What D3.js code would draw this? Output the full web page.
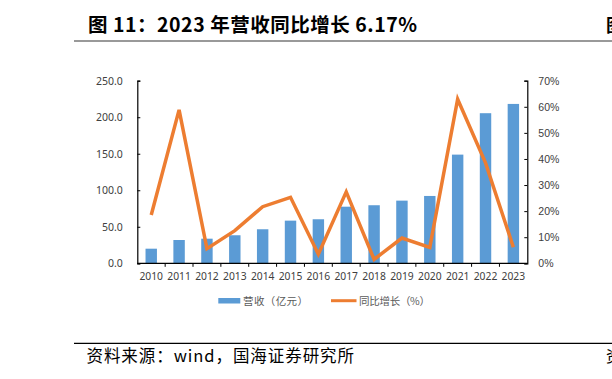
<!DOCTYPE html>
<html><head><meta charset="utf-8">
<script src="https://cdn.jsdelivr.net/npm/d3@7"></script>
<style>
html,body{margin:0;padding:0;background:#fff;}
svg{display:block;}
</style></head>
<body>
<svg id="c" width="612" height="379"></svg>
<script>
const years = ["2010","2011","2012","2013","2014","2015","2016","2017","2018","2019","2020","2021","2022","2023"];
const revenue = [20.0, 31.9, 33.7, 38.4, 46.6, 58.4, 60.3, 77.5, 79.5, 85.8, 92.2, 148.8, 205.5, 218.2];
const growth = [18.5, 58.8, 5.6, 12.5, 21.7, 25.3, 3.5, 27.4, 1.5, 9.7, 6.1, 62.9, 38.5, 6.17];
const leftTicks = [0, 50, 100, 150, 200, 250];
const rightTicks = [0, 10, 20, 30, 40, 50, 60, 70];
const titleText = "图 11：2023 年营收同比增长 6.17%";
const sourceText = "资料来源：wind，国海证券研究所";
const legendLabels = ["营收（亿元）", "同比增长（%）"];

const svg = d3.select("#c");
const L = 137.3, R = 527.3, T = 80.7, B = 263.3;
const BLUE = "#5B9BD5", ORANGE = "#ED7D31";
const cjk = "'Noto Sans CJK SC','Noto Sans',sans-serif";

const x = d3.scaleBand().domain(years).range([L, R]).paddingInner(0.59).paddingOuter(0.295);
const yL = d3.scaleLinear().domain([0, 250]).range([B, T]);
const yR = d3.scaleLinear().domain([0, 70]).range([B, T]);

// title
svg.append("text").attr("x", 88).attr("y", 31.5).attr("font-family", cjk)
  .attr("font-weight", "bold").attr("font-size", 19.5).attr("fill", "#000")
  .attr("textLength", 329).attr("lengthAdjust", "spacing").text(titleText);
svg.append("text").attr("x", 606).attr("y", 31.5).attr("font-family", cjk)
  .attr("font-weight", "bold").attr("font-size", 18).attr("fill", "#000").text("图");
svg.append("line").attr("x1", 74).attr("x2", 612).attr("y1", 41).attr("y2", 41)
  .attr("stroke", "#777").attr("stroke-width", 1.6);

// bars
svg.append("g").selectAll("rect").data(years).join("rect")
  .attr("x", d => x(d)).attr("width", x.bandwidth())
  .attr("y", (d, i) => yL(revenue[i])).attr("height", (d, i) => B - yL(revenue[i]))
  .attr("fill", BLUE);

// axes
const gL = svg.append("g").attr("transform", `translate(${L},0)`)
  .call(d3.axisRight(yL).tickValues(leftTicks).tickSize(3).tickFormat(d3.format(".1f")));
gL.selectAll("text").attr("x", -14.5).attr("text-anchor", "end");
const gR = svg.append("g").attr("transform", `translate(${R},0)`)
  .call(d3.axisLeft(yR).tickValues(rightTicks).tickSize(3).tickFormat(d => d + "%"));
gR.selectAll("text").attr("x", 11).attr("text-anchor", "start")
  .attr("font-family", "'Liberation Sans Narrow','Liberation Sans',Arial,sans-serif").attr("font-size", 10.5);
const gB = svg.append("g").attr("transform", `translate(0,${B})`)
  .call(d3.axisBottom(x).tickSize(0).tickPadding(9));
[gL, gR, gB].forEach(g => {
  g.select(".domain").attr("stroke", "#000").attr("stroke-width", 1.2);
  g.selectAll(".tick line").attr("stroke", "#000");
  g.selectAll("text").attr("fill", "#404040");
});
gL.selectAll("text").attr("font-family", "'Noto Sans',sans-serif").attr("font-size", 10.5);
gB.selectAll("text").attr("font-family", "'Noto Sans',sans-serif").attr("font-size", 10.3);
gB.select(".domain").attr("d", `M${L},0H${R}`);
// category boundary ticks on the x axis
const step = x.step();
svg.append("g").selectAll("line").data(years.slice(1)).join("line")
  .attr("x1", d => x(d) + x.bandwidth() / 2 - step / 2).attr("x2", d => x(d) + x.bandwidth() / 2 - step / 2)
  .attr("y1", B).attr("y2", B + 3.5).attr("stroke", "#000");

// line
const line = d3.line().x((d, i) => x(years[i]) + x.bandwidth() / 2).y(d => yR(d));
svg.append("path").datum(growth).attr("d", line).attr("fill", "none")
  .attr("stroke", ORANGE).attr("stroke-width", 3.5).attr("stroke-linejoin", "miter");

// legend
svg.append("rect").attr("x", 218.3).attr("y", 298).attr("width", 22).attr("height", 5.5).attr("fill", BLUE);
svg.append("text").attr("x", 243).attr("y", 304.5).attr("font-family", cjk).attr("font-size", 10.5)
  .attr("fill", "#595959").attr("textLength", 65).attr("lengthAdjust", "spacing").text(legendLabels[0]);
svg.append("line").attr("x1", 331).attr("x2", 356.5).attr("y1", 300.7).attr("y2", 300.7)
  .attr("stroke", ORANGE).attr("stroke-width", 3);
svg.append("text").attr("x", 359).attr("y", 304.5).attr("font-family", cjk).attr("font-size", 10.5)
  .attr("fill", "#595959").attr("textLength", 71).attr("lengthAdjust", "spacing").text(legendLabels[1]);

// source
svg.append("line").attr("x1", 74).attr("x2", 612).attr("y1", 343.3).attr("y2", 343.3)
  .attr("stroke", "#000").attr("stroke-width", 1.2);
svg.append("text").attr("x", 86.5).attr("y", 362).attr("font-family", cjk).attr("font-size", 16.5)
  .attr("fill", "#000").attr("textLength", 267.5).attr("lengthAdjust", "spacing").text(sourceText);
svg.append("text").attr("x", 606).attr("y", 362).attr("font-family", cjk).attr("font-size", 15.5)
  .attr("fill", "#000").text("资");
</script>
</body></html>
